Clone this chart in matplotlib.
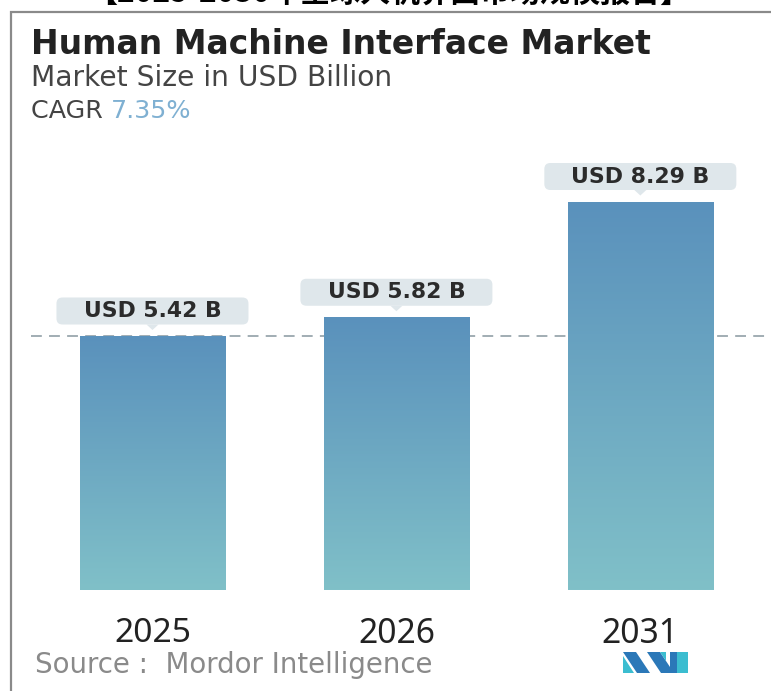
import matplotlib
matplotlib.use("Agg")
import matplotlib.pyplot as plt
import numpy as np
from matplotlib.colors import LinearSegmentedColormap
from matplotlib.patches import Rectangle, Polygon, FancyBboxPatch

years = ["2025", "2026", "2031"]
values = [5.42, 5.82, 8.29]
labels = ["USD 5.42 B", "USD 5.82 B", "USD 8.29 B"]
title = "Human Machine Interface Market"
subtitle = "Market Size in USD Billion"
cagr = "7.35%"
source = "Source :  Mordor Intelligence"
banner = "【2025-2030年全球人机界面市场规模报告】"

W, H = 771, 691
fig = plt.figure(figsize=(W / 100, H / 100), dpi=100)
fig.patch.set_facecolor("white")
fig.canvas.draw()
renderer = fig.canvas.get_renderer()


def fx(px):
    return px / W


def fy(py):
    return 1 - py / H


def fit(t, target_px):
    w = t.get_window_extent(renderer).width
    t.set_fontsize(t.get_fontsize() * target_px / w)


# frame
fig.add_artist(Rectangle((fx(11), fy(H + 5)), fx(W), fy(12) - fy(H + 5),
                         transform=fig.transFigure, fill=False,
                         edgecolor="#8a8a8a", linewidth=1.6))

# cut banner at top
bt = fig.text(fx(389), fy(-7), banner, ha="center", va="center", fontsize=22,
              family=["Noto Sans CJK SC", "DejaVu Sans"], fontweight="bold",
              color="black")
fit(bt, 602)

# titles
tt = fig.text(fx(31), fy(44), title, ha="left", va="center", fontsize=21,
              family="DejaVu Sans", fontweight="bold", color="#222222")
fit(tt, 619)
st = fig.text(fx(31), fy(78), subtitle, ha="left", va="center", fontsize=15,
              family="DejaVu Sans", color="#444444")
fit(st, 362)
ct = fig.text(fx(31), fy(111), "CAGR ", ha="left", va="center", fontsize=15,
              family="DejaVu Sans", color="#444444")
fit(ct, 80)
bb = ct.get_window_extent(renderer)
pt = fig.text(bb.x1 / W, fy(111), cagr, ha="left", va="center", fontsize=ct.get_fontsize(),
              family="DejaVu Sans", color="#7fb0d2")

# axes
bottom_px, top_px = 590, 150
ax = fig.add_axes([fx(30.5), fy(bottom_px), fx(744), (bottom_px - top_px) / H])
x = np.arange(len(years))
unit = (bottom_px - 336) / values[0]
ylim = (0, (bottom_px - top_px) / unit)
xlim = (-0.5, 2.55)
ax.set_ylim(*ylim)
ax.set_xlim(*xlim)
ax.axis("off")

bars = ax.bar(x, values, width=0.595, color="none", edgecolor="none", zorder=2)
cmap = LinearSegmentedColormap.from_list("g", ["#80c0c8", "#5a91bc"])
grad = np.linspace(0, 1, 256).reshape(-1, 1)
for b in bars:
    im = ax.imshow(grad, cmap=cmap, origin="lower", aspect="auto",
                   extent=(b.get_x(), b.get_x() + b.get_width(), 0, b.get_height()),
                   zorder=2)
    im.set_clip_path(b)
ax.set_xlim(*xlim)
ax.set_ylim(*ylim)

ax.axhline(values[0], color="#9aa7ae", linestyle=(0, (6, 4)), linewidth=1.3, zorder=1)

for xi, v, lab in zip(x, values, labels):
    dx, dy = ax.transData.transform((xi, v))
    cy = dy + 25
    box = FancyBboxPatch((dx - 96, cy - 13.5), 192, 27,
                         boxstyle="round,pad=0,rounding_size=6",
                         transform=None, fc="#dfe7eb", ec="none", zorder=4)
    fig.add_artist(box)
    fig.add_artist(Polygon([(dx - 6, cy - 13.5), (dx + 6, cy - 13.5), (dx, cy - 19)],
                           closed=True, transform=None, fc="#dfe7eb", ec="none", zorder=4))
    lt = fig.text(dx / W, cy / H, lab, ha="center", va="center", fontsize=14,
                  family="DejaVu Sans", fontweight="bold", color="#2b2b2b", zorder=5)
    fit(lt, 138)
    yt = ax.annotate(years[xi], (xi, 0), xytext=(0, -44), textcoords="offset pixels",
                     ha="center", va="center", fontsize=22, family="Noto Sans",
                     color="#222222")
    fit(yt, 77)

srt = fig.text(fx(35), fy(665), source, ha="left", va="center", fontsize=14,
               family="DejaVu Sans", color="#8a8a8a")
fit(srt, 400)


# logo
def poly(pts, c):
    fig.add_artist(Polygon([(fx(a), fy(b)) for a, b in pts], closed=True,
                           transform=fig.transFigure, fc=c, ec="none"))


poly([(623, 652), (636, 652), (650, 673), (637, 673)], "#2b78b8")
poly([(623, 656), (623, 673), (634, 673)], "#3bbdd0")
poly([(647, 652), (660, 652), (674, 673), (661, 673)], "#2b78b8")
poly([(660, 652), (666, 652), (666, 661)], "#3bbdd0")
poly([(677, 652), (688, 652), (688, 673), (677, 673)], "#3bbdd0")
poly([(670, 652), (677, 652), (677, 673), (670, 673)], "#2b78b8")

fig.savefig("out.png", dpi=100, facecolor="white")
